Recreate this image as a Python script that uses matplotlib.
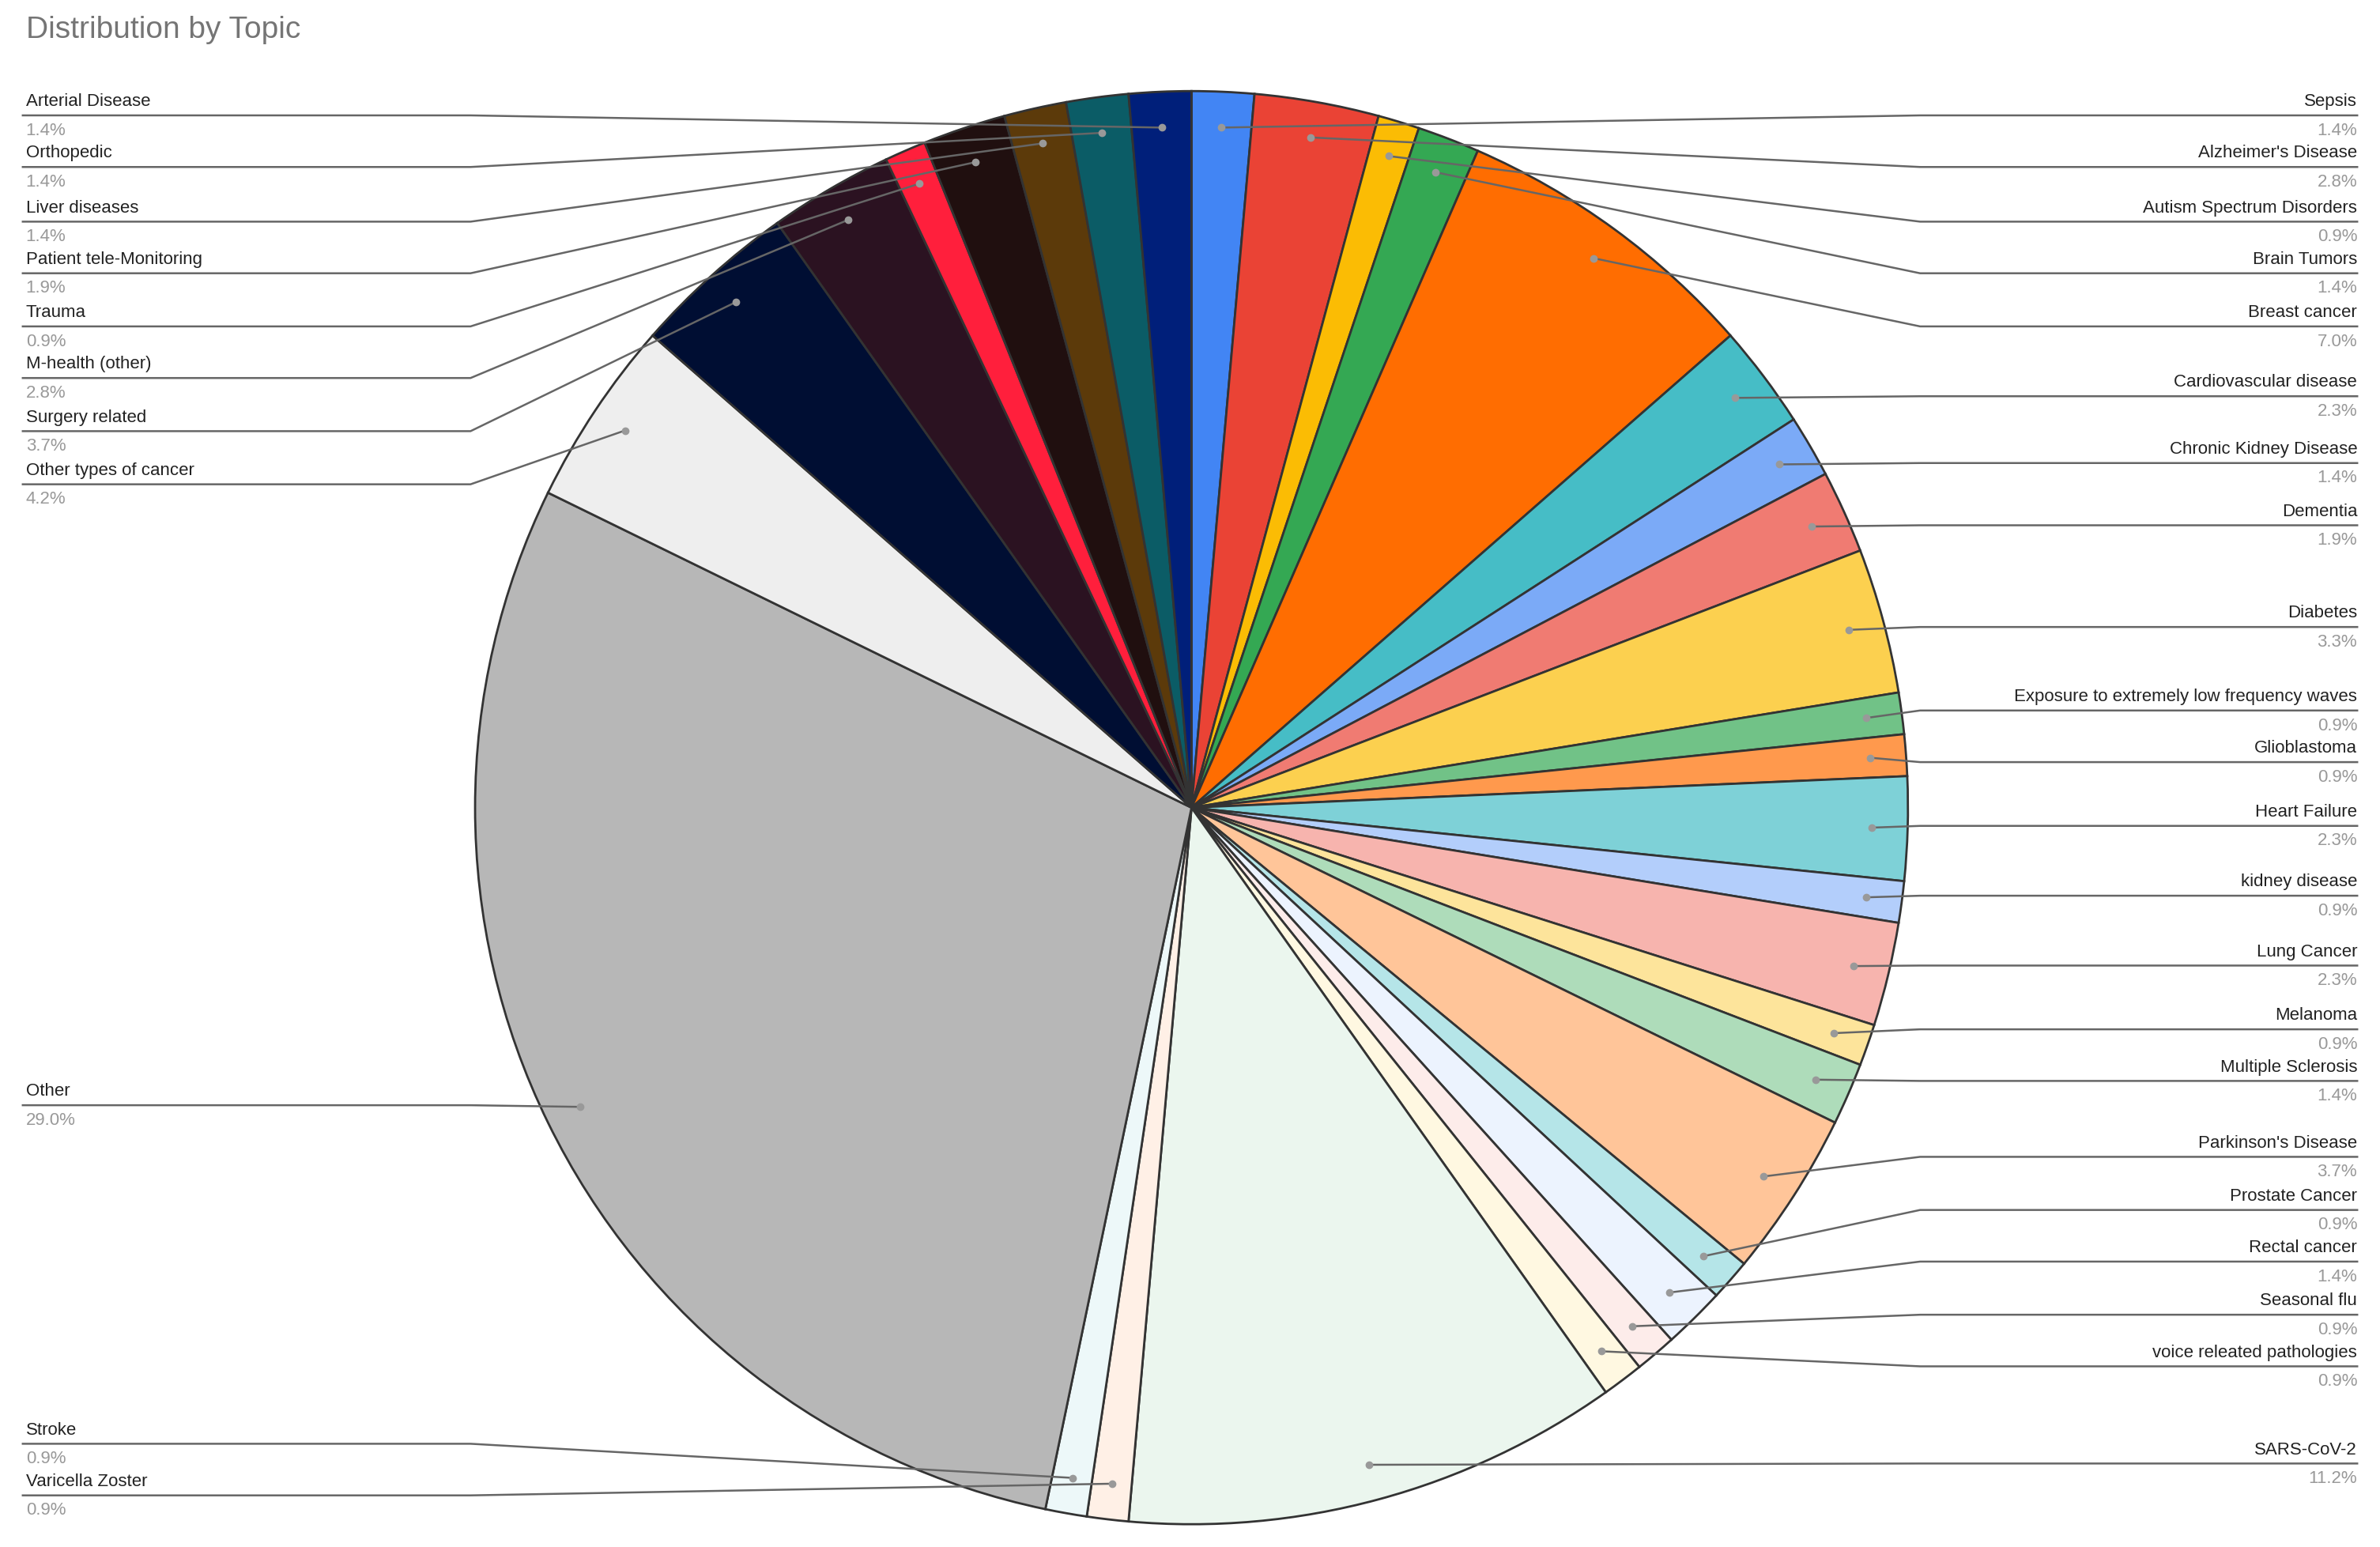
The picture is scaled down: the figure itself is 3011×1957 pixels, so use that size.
import matplotlib
matplotlib.use("Agg")
import matplotlib.pyplot as plt
import numpy as np

plt.rcParams['font.family'] = ['Liberation Sans', 'DejaVu Sans']

labels = ["Sepsis", "Alzheimer's Disease", "Autism Spectrum Disorders", "Brain Tumors", "Breast cancer",
          "Cardiovascular disease", "Chronic Kidney Disease", "Dementia", "Diabetes",
          "Exposure to extremely low frequency waves", "Glioblastoma", "Heart Failure", "kidney disease",
          "Lung Cancer", "Melanoma", "Multiple Sclerosis", "Parkinson's Disease", "Prostate Cancer",
          "Rectal cancer", "Seasonal flu", "voice releated pathologies", "SARS-CoV-2", "Varicella Zoster",
          "Stroke", "Other", "Other types of cancer", "Surgery related", "M-health (other)", "Trauma",
          "Patient tele-Monitoring", "Liver diseases", "Orthopedic", "Arterial Disease"]
counts = [3, 6, 2, 3, 15, 5, 3, 4, 7, 2, 2, 5, 2, 5, 2, 3, 8, 2, 3, 2, 2, 24, 2, 2, 62, 9, 8, 6, 2, 4, 3, 3, 3]
colors = ["#4285F4", "#EA4335", "#FBBC04", "#34A853", "#FF6D01", "#46BDC6", "#7BAAF7", "#F07B72", "#FCD04F",
          "#71C287", "#FF994D", "#7ED1D7", "#B3CEFB", "#F7B4AE", "#FDE49B", "#AEDCBA", "#FFC599", "#B5E5E8",
          "#ECF3FE", "#FDECEA", "#FFF8E1", "#EBF6EE", "#FFF0E6", "#EDF8F9", "#B7B7B7", "#EEEEEE", "#000E33",
          "#2B1221", "#FF1F3C", "#200F0F", "#5C3A0A", "#0B5C66", "#001F7A"]
# label layout (display units): side, text y
sides = ['R'] * 22 + ['L'] * 11
label_y = [67, 101, 137, 171, 206, 252, 296, 337, 404, 459, 493, 535, 581, 627, 669, 703, 753, 788, 822, 857, 891, 955,
           976, 942, 719, 310, 275, 240, 206, 171, 137, 101, 67]

W, H = 1568, 1019
fig = plt.figure(figsize=(30.11, 19.57), dpi=100)
ax = fig.add_axes([0, 0, 1, 1])
ax.set_xlim(0, W)
ax.set_ylim(0, H)
ax.axis('off')

cx, cy, R = 785, H - 532, 472
wedges, _ = ax.pie(counts, colors=colors, startangle=90, counterclock=False, center=(cx, cy), radius=R,
                   wedgeprops=dict(edgecolor="#333333", linewidth=2), frame=True)
ax.set_xlim(0, W)
ax.set_ylim(0, H)
ax.set_aspect('auto')
ax.axis('off')

total = sum(counts)
for w, lab, c, side, ly in zip(wedges, labels, counts, sides, label_y):
    ang = np.deg2rad((w.theta1 + w.theta2) / 2)
    px, py = cx + 0.95 * R * np.cos(ang), cy + 0.95 * R * np.sin(ang)
    liney = H - (ly + 9)
    if side == 'R':
        xs = [1553, 1265, px]
        tx, ha = 1553, 'right'
    else:
        xs = [15, 310, px]
        tx, ha = 17, 'left'
    ax.plot(xs, [liney, liney, py], color="#666666", lw=1.8, zorder=5)
    ax.plot(px, py, 'o', color="#999999", ms=6, zorder=6)
    ax.text(tx, H - ly, lab, ha=ha, va='center', fontsize=16, color="#222222")
    ax.text(tx, H - ly - 19, f"{100 * c / total:.1f}%", ha=ha, va='center', fontsize=16, color="#999999")

ax.text(17, H - 20, "Distribution by Topic", ha='left', va='center', fontsize=28, color="#757575")
fig.savefig("out.png", dpi=100)
